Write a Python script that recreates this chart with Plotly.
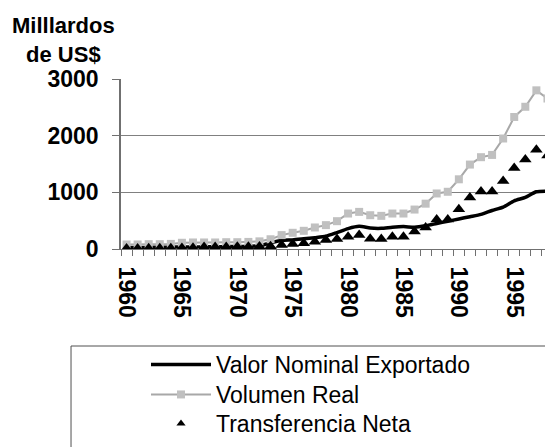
import plotly.graph_objects as go

years = list(range(1960, 1999))
valor_nominal = [25, 27, 28, 30, 33, 35, 37, 38, 40, 43, 45, 48, 55, 110, 150, 160, 180, 200, 225, 290,
                 360, 400, 370, 365, 385, 395, 385, 410, 450, 490, 530, 570, 610, 680, 740, 850, 910, 1010, 1020]
volumen_real = [80, 80, 85, 85, 90, 110, 115, 115, 115, 120, 120, 125, 135, 172, 245, 286, 321, 380, 421, 491,
                626, 655, 596, 585, 626, 626, 696, 800, 980, 1010, 1230, 1490, 1620, 1660, 1950, 2330, 2510, 2800, 2655]
transferencia = [10, 10, 12, 12, 15, 18, 20, 35, 35, 35, 40, 40, 45, 50, 70, 90, 100, 130, 160, 175,
                 215, 245, 180, 175, 215, 216, 310, 380, 520, 520, 700, 910, 1015, 1015, 1200, 1430, 1580, 1750, 1650]
label_years = [1960, 1965, 1970, 1975, 1980, 1985, 1990, 1995]
y_ticks = [0, 1000, 2000, 3000]

FONT = "Liberation Sans"
AXIS = "#707070"
W, H = 545, 439  # page body has an 8px margin

fig = go.Figure()
fig.add_trace(go.Scatter(x=years, y=valor_nominal, mode="lines", name="Valor Nominal Exportado",
                         legend="legend",
                         line=dict(color="black", width=3.5, shape="spline", smoothing=0.6)))
fig.add_trace(go.Scatter(x=years, y=volumen_real, mode="lines+markers", name="Volumen Real",
                         legend="legend2",
                         line=dict(color="#a8a8a8", width=2),
                         marker=dict(symbol="square", size=8, color="#c0c0c0")))
fig.add_trace(go.Scatter(x=years, y=transferencia, mode="markers", name="Transferencia Neta",
                         marker=dict(symbol="triangle-up", size=11, color="black"),
                         showlegend=False, legendgroup="t"))
fig.add_trace(go.Scatter(x=[None], y=[None], mode="markers", name="Transferencia Neta",
                         legend="legend3",
                         marker=dict(symbol="triangle-up", size=8, color="black"),
                         legendgroup="t"))

# legend frame
fig.add_shape(type="rect", xref="paper", yref="paper", x0=-0.1157, x1=1.2, y0=-0.5706, y1=-1.4,
              line=dict(color="#505050", width=1), fillcolor="rgba(0,0,0,0)", layer="above")

fig.add_annotation(text="Milllardos<br>de US$", xref="paper", yref="paper",
                   x=-0.132, y=1.40, xanchor="center", yanchor="top", showarrow=False, align="center",
                   font=dict(family=FONT, size=22, weight="bold", color="black"))


def leg(top):
    return dict(xref="container", yref="container", x=138/W, xanchor="left",
                y=1 - top/H, yanchor="top", font=dict(family=FONT, size=23, color="black"),
                itemwidth=60, bgcolor="rgba(0,0,0,0)", borderwidth=0, tracegroupgap=0)


fig.update_layout(
    width=W, height=H, autosize=False,
    margin=dict(l=113, r=0, t=71, b=198, pad=0, autoexpand=False),
    paper_bgcolor="white", plot_bgcolor="white",
    font=dict(family=FONT, color="black"),
    showlegend=True,
    legend=leg(335), legend2=leg(365), legend3=leg(394),
    xaxis=dict(range=[1959.5, 1998.5], tickmode="array", tickvals=label_years,
               ticktext=[str(v) for v in label_years], tickangle=90, ticks="",
               tickfont=dict(family=FONT, size=23, weight="bold", color="black"),
               ticklabelstandoff=12,
               showgrid=False, zeroline=False, showline=True, linecolor=AXIS, linewidth=1,
               minor=dict(tickmode="linear", tick0=1959.5, dtick=1, ticks="outside", ticklen=6,
                          tickcolor=AXIS, tickwidth=1, showgrid=False)),
    yaxis=dict(range=[0, 3000], tickmode="array", tickvals=y_ticks, ticks="outside", ticklen=7,
               tickcolor=AXIS, tickfont=dict(family=FONT, size=23, weight="bold", color="black"),
               ticklabelstandoff=9,
               showgrid=True, gridcolor="#808080", gridwidth=1, zeroline=False,
               showline=True, linecolor=AXIS, linewidth=1.5),
)

fig.write_html("out.html")
